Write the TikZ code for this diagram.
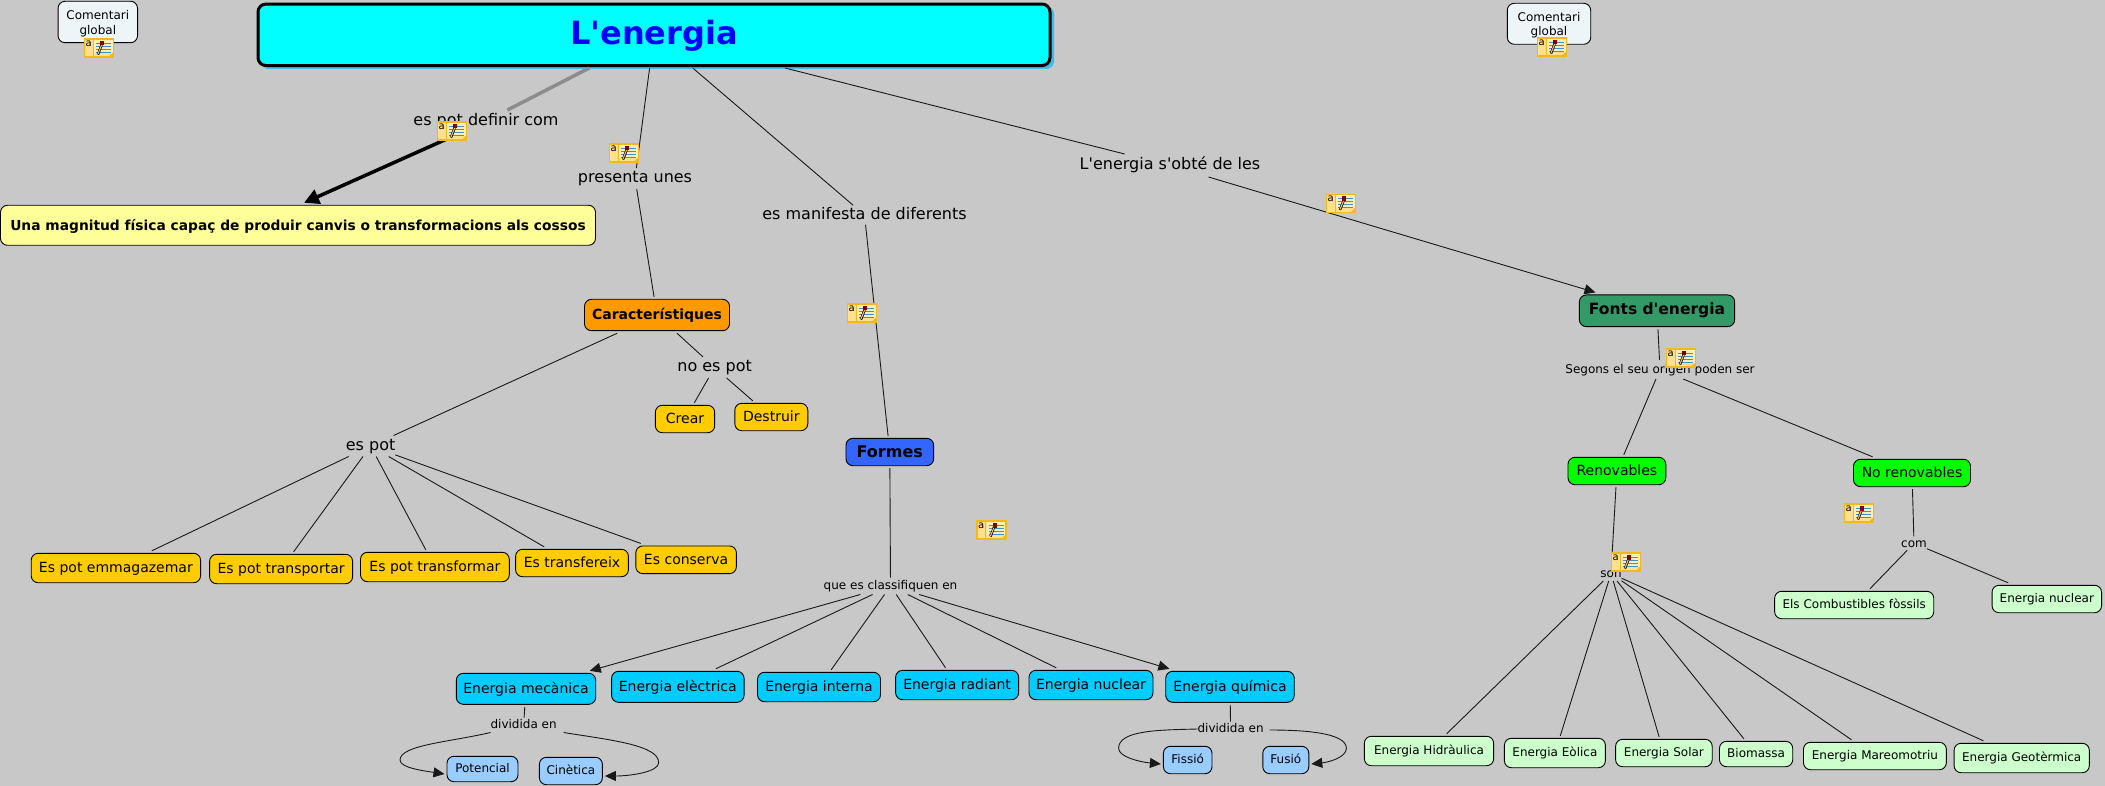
\documentclass[tikz,border=0pt]{standalone}
\usepackage{fontspec}
\setmainfont{DejaVu Sans}[Ligatures=TeXOff]
\usetikzlibrary{arrows.meta,calc}
\definecolor{bg}{HTML}{C8C8C8}
\definecolor{cmt}{HTML}{EEF5F8}
\definecolor{ttl}{HTML}{00FFFF}
\definecolor{ttlsh}{HTML}{3DBBEA}
\definecolor{orang}{HTML}{FF9900}
\definecolor{gold}{HTML}{FFCC00}
\definecolor{pale}{HTML}{FFFF99}
\definecolor{sky}{HTML}{00CCFF}
\definecolor{lsky}{HTML}{99CCFF}
\definecolor{royal}{HTML}{3366FF}
\definecolor{sea}{HTML}{339966}
\definecolor{lime}{HTML}{00FF00}
\definecolor{mint}{HTML}{CCFFCC}
\definecolor{notefill}{HTML}{FFE08F}
\definecolor{notelight}{HTML}{FFEFB5}
\definecolor{noteline}{HTML}{F2B81E}
\definecolor{noteblue}{HTML}{3F8FD0}
\newcommand{\fsz}[1]{\fontsize{#1}{#1}\selectfont}
\tikzset{
  cbox/.style={draw=black,line width=.9pt,rounded corners=7pt,inner sep=0pt,outer sep=2.5pt,align=center},
  lab/.style={inner sep=0pt,outer sep=0pt},
  cn/.style={draw=black!90,line width=.9pt},
  arr/.style={cn,-{Triangle[length=11pt,width=10pt]}},
  fa/.style={font=\fsz{12},text height=10pt,text depth=2.6pt},
  fb/.style={font=\fsz{14},text height=12pt,text depth=3pt},
  fc/.style={font=\fsz{16},text height=12pt,text depth=3.4pt},
  noteicon/.pic={
    \fill[notefill] (-14.5,-9) rectangle (14.5,9);
    \fill[notelight] (-5,-8) rectangle (14,5);
    \draw[noteline,line width=1.1pt] (-14.5,-9) rectangle (14.5,9);
    \draw[noteline,line width=.7pt] (-6,-9) -- (-6,9);
    \fill[noteline] (14.5,9) -- (9.5,9) -- (14.5,4) -- cycle;
    \foreach \yy in {-5,-2,1,4}{\draw[noteblue,line width=.8pt] (-3,\yy) -- (12,\yy);}
    \draw[black,line width=2.4pt] (-1,6.5) -- (2.6,-3);
    \draw[notefill!60!orange,line width=1.1pt] (-1,6) -- (2.6,-3);
    \fill[red!50!black] (1.2,-2.5) rectangle (5,-7);
    \node[inner sep=0pt,font=\fontsize{10}{10}\selectfont] (glyph) at (-10.3,-4.6) {a};
  }
}
\begin{document}
\begin{tikzpicture}[x=1pt,y=-1pt]
\fill[bg] (0,0) rectangle (2105,786);
\useasboundingbox (0,0) rectangle (2105,786);

% Concept boxes
\fill[ttlsh,rounded corners=8pt] (261,6) rectangle (1054,69);
\node[cbox,fill=ttl,line width=3pt,rounded corners=8pt,minimum width=792pt,minimum height=61.5pt,font=\bfseries\fsz{32},text=blue,text height=26pt,text depth=7pt] (title) at (654,34.8) {L'energia};
\node[cbox,fill=cmt,minimum width=79.5pt,minimum height=41.4pt,font=\fontsize{12}{14.7}\selectfont] (comA) at (97.8,22) {\rule{0pt}{12pt}Comentari\\global};
\node[cbox,fill=cmt,minimum width=83.4pt,minimum height=41pt,font=\fontsize{12}{14.7}\selectfont] (comB) at (1549,23.8) {\rule{0pt}{12pt}Comentari\\global};
\node[cbox,fill=pale,minimum width=595pt,minimum height=40pt,font=\bfseries\fsz{13.8},text height=13pt,text depth=3pt] (mag) at (298,225.3) {Una magnitud física capaç de produir canvis o transformacions als cossos};

\node[cbox,fill=orang,minimum width=145pt,minimum height=31.4pt,font=\bfseries\fsz{14},text height=13pt,text depth=3pt] (car) at (657,315) {Característiques};
\node[cbox,fill=royal,minimum width=87.7pt,minimum height=27.4pt,font=\bfseries\fsz{16},text height=14pt,text depth=3.4pt] (formes) at (889.8,452) {Formes};
\node[cbox,fill=sea,minimum width=155.3pt,minimum height=31.7pt,font=\bfseries\fsz{15.5},text height=11.6pt,text depth=3.4pt] (fonts) at (1657,310.8) {Fonts d'energia};

\node[cbox,fb,fill=gold,minimum width=59.3pt,minimum height=27.4pt] (crear) at (685,419) {Crear};
\node[cbox,fb,fill=gold,minimum width=73pt,minimum height=27.4pt] (destruir) at (771.3,417) {Destruir};
\node[cbox,fb,fill=gold,minimum width=169.4pt,minimum height=29.4pt] (emm) at (115.9,568) {Es pot emmagazemar};
\node[cbox,fb,fill=gold,minimum width=143pt,minimum height=29.4pt] (transp) at (281.1,569) {Es pot transportar};
\node[cbox,fb,fill=gold,minimum width=148.8pt,minimum height=29.4pt] (transf) at (434.9,567) {Es pot transformar};
\node[cbox,fb,fill=gold,minimum width=112.8pt,minimum height=27.4pt] (trei) at (572,563) {Es transfereix};
\node[cbox,fb,fill=gold,minimum width=100.6pt,minimum height=27.7pt] (cons) at (686.1,559.8) {Es conserva};

\node[cbox,fb,fill=sky,minimum width=139.4pt,minimum height=31pt] (mec) at (526,688.8) {Energia mecànica};
\node[cbox,fb,fill=sky,minimum width=132.5pt,minimum height=31pt] (ele) at (677.8,686.8) {Energia elèctrica};
\node[cbox,fb,fill=sky,minimum width=123pt,minimum height=29.4pt] (int) at (819,687) {Energia interna};
\node[cbox,fb,fill=sky,minimum width=123pt,minimum height=29.4pt] (rad) at (957.1,685) {Energia radiant};
\node[cbox,fb,fill=sky,minimum width=124pt,minimum height=29.4pt] (nuc) at (1091,685) {Energia nuclear};
\node[cbox,fb,fill=sky,minimum width=128.5pt,minimum height=31pt] (qui) at (1230,686.8) {Energia química};

\node[cbox,fa,fill=lsky,minimum width=71pt,minimum height=25.4pt] (pot) at (482.5,769) {Potencial};
\node[cbox,fa,fill=lsky,minimum width=63pt,minimum height=27.4pt] (cin) at (570.9,771) {Cinètica};
\node[cbox,fa,fill=lsky,minimum width=48.6pt,minimum height=27.4pt] (fis) at (1187.7,760) {Fissió};
\node[cbox,fa,fill=lsky,minimum width=46pt,minimum height=27.4pt] (fus) at (1285.8,760) {Fusió};

\node[cbox,fb,fill=lime,minimum width=97.8pt,minimum height=27.4pt] (renov) at (1616.9,471) {Renovables};
\node[cbox,fb,fill=lime,minimum width=117pt,minimum height=27.4pt] (norenov) at (1912,473) {No renovables};

\node[cbox,fa,fill=mint,minimum width=129.3pt,minimum height=29.4pt] (hid) at (1429,751) {Energia Hidràulica};
\node[cbox,fa,fill=mint,minimum width=101pt,minimum height=29.4pt] (eol) at (1554.9,753) {Energia Eòlica};
\node[cbox,fa,fill=mint,minimum width=96.6pt,minimum height=27.4pt] (sol) at (1663.9,753) {Energia Solar};
\node[cbox,fa,fill=mint,minimum width=73.2pt,minimum height=25.4pt] (bio) at (1756.1,754) {Biomassa};
\node[cbox,fa,fill=mint,minimum width=142.9pt,minimum height=27.4pt] (mar) at (1874.9,756) {Energia Mareomotriu};
\node[cbox,fa,fill=mint,minimum width=135.2pt,minimum height=29.4pt] (geo) at (2021.7,758) {Energia Geotèrmica};
\node[cbox,fa,fill=mint,minimum width=159.1pt,minimum height=27.4pt] (comb) at (1854.2,605) {Els Combustibles fòssils};
\node[cbox,fa,fill=mint,minimum width=109.5pt,minimum height=27.4pt] (enuc) at (2046.8,599) {Energia nuclear};

% Linking phrases
\node[lab,fc,minimum height=22pt] (defi) at (486,121) {es pot definir com};
\node[lab,fc,minimum height=21pt] (pres) at (635,178.5) {presenta unes};
\node[lab,fc,minimum height=19.5pt] (mani) at (864.5,215) {es manifesta de diferents};
\node[lab,fc,minimum height=23pt] (obte) at (1170,165.5) {L'energia s'obté de les};
\node[lab,fc,minimum height=21pt] (noes) at (714.6,367.5) {no es pot};
\node[lab,fc,minimum height=21pt] (espot) at (370.6,446) {es pot};
\node[lab,fa,minimum height=17pt] (clas) at (890.5,586) {que es classifiquen en};
\node[lab,fa,minimum height=15pt] (divA) at (523.6,725) {dividida en};
\node[lab,fa,minimum height=15pt] (divB) at (1230.6,729) {dividida en};
\node[lab,fa,minimum height=19pt] (seg) at (1660,369.5) {Segons el seu origen poden ser};
\node[lab,fa,minimum height=14pt] (como) at (1914,543.3) {com};
\node[lab,fa,minimum height=15pt] (son) at (1611,573.5) {son};

% Connectors
\draw[draw=black!45,line width=3.5pt] (title) -- (defi);
\draw[draw=black,line width=3.5pt,-{Triangle[length=15pt,width=15pt]}] (defi.205) -- (mag.75);
\draw[cn] (title) -- (pres);
\draw[cn] (pres) -- (car);
\draw[cn] (title) -- (mani);
\draw[cn] (mani) -- (formes);
\draw[cn] (title) -- (obte);
\draw[arr] (obte) -- (fonts);
\draw[cn] (car) -- (noes);
\draw[cn] (noes) -- (crear);
\draw[cn] (noes) -- (destruir);
\draw[cn] (car) -- (espot);
\draw[cn] (espot) -- (emm);
\draw[cn] (espot) -- (transp);
\draw[cn] (espot) -- (transf);
\draw[cn] (espot) -- (trei);
\draw[cn] (espot) -- (cons);
\draw[cn] (formes) -- (clas);
\draw[arr] (clas) -- (mec);
\draw[cn] (clas) -- (ele);
\draw[cn] (clas) -- (int);
\draw[cn] (clas) -- (rad);
\draw[cn] (clas) -- (nuc);
\draw[arr] (clas) -- (qui);
\draw[cn] (mec) -- (divA);
\draw[cn] (qui) -- (divB);
\draw[arr] (divA.south west) .. controls (450,742) and (400,745) .. (400,760) .. controls (400,768) and (425,771) .. ($(pot.west)+(0,5)$);
\draw[arr] ($(divA.south east)+(7,0)$) .. controls (610,740) and (658.7,745) .. (658.7,762.7) .. controls (658.7,772) and (630,776) .. ($(cin.east)+(0,5)$);
\draw[arr] (divB.west) .. controls (1160,730) and (1118.6,730) .. (1118.6,748.3) .. controls (1118.6,757) and (1140,762) .. ($(fis.west)+(0,4)$);
\draw[arr] ($(divB.east)+(6,1)$) .. controls (1300,730) and (1346.4,732) .. (1346.4,748.3) .. controls (1346.4,757) and (1330,762) .. ($(fus.east)+(0,4)$);
\draw[cn] (fonts) -- (seg);
\draw[cn] (seg) -- (renov);
\draw[cn] (seg) -- (norenov);
\draw[cn] (renov) -- (son);
\draw[cn] (norenov) -- (como);
\draw[cn] (como) -- (comb);
\draw[cn] (como) -- (enuc);
\draw[cn] (son) -- (hid);
\draw[cn] (son) -- (eol);
\draw[cn] (son) -- (sol);
\draw[cn] (son) -- (bio);
\draw[cn] (son) -- (mar);
\draw[cn] (son) -- (geo);

% Annotation icons
\pic (noteA) at (99,48) {noteicon};
\pic (noteB) at (1552,47) {noteicon};
\pic (noteC) at (452,131) {noteicon};
\pic (noteD) at (624,153) {noteicon};
\pic (noteE) at (862,313) {noteicon};
\pic (noteF) at (991.5,530) {noteicon};
\pic (noteG) at (1341,203.5) {noteicon};
\pic (noteH) at (1681,358) {noteicon};
\pic (noteI) at (1859,513) {noteicon};
\pic (noteJ) at (1626,562) {noteicon};
\end{tikzpicture}
\end{document}
